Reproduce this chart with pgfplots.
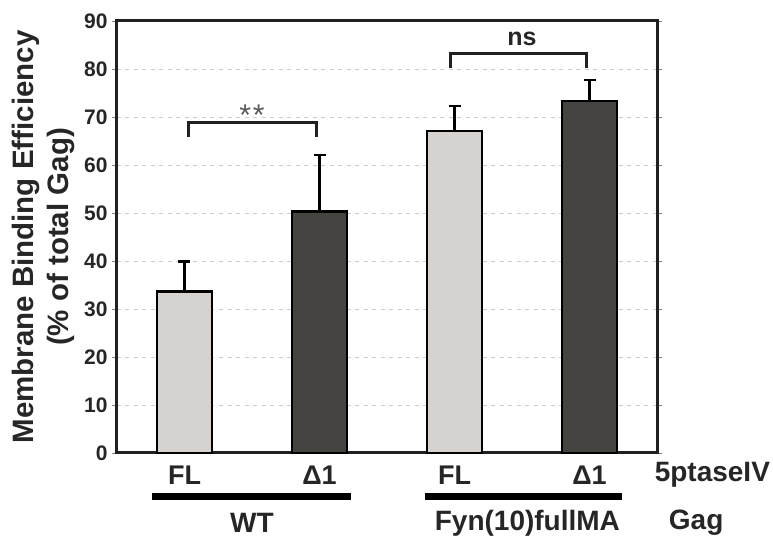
\documentclass[border=0pt]{standalone}
\usepackage{fontspec}
\setmainfont{Liberation Sans}
\usepackage{pgfplots}
\pgfplotsset{compat=1.18}
\definecolor{lightbar}{HTML}{D6D2CF}
\definecolor{darkbar}{HTML}{45433F}
\definecolor{axisdark}{HTML}{202020}

\begin{document}
\begin{tikzpicture}[font=\bfseries]
\useasboundingbox (-117pt,-87pt) rectangle (656pt,453pt);
\begin{axis}[
  at={(0,0)}, anchor=south west,
  width=540pt, height=432pt, scale only axis,
  xmin=0, xmax=4, ymin=0, ymax=90,
  ytick={0,10,...,90},
  xtick={0.5,1.5,2.5,3.5}, xticklabels={FL,Δ1,FL,Δ1},
  minor xtick={0,1,2,3,4},
  tick align=outside,
  major tick length=5pt, minor tick length=8pt,
  xtick style={draw=none},
  ytick style={gray, line width=0.6pt},
  minor x tick style={gray!70, line width=0.6pt},
  ymajorgrids,
  major grid style={gray!40, line width=0.8pt, dash pattern=on 4pt off 4.5pt},
  axis line style={line width=3pt, axisdark},
  /pgf/number format/assume math mode=true,
  yticklabel style={font=\fontsize{21}{21}\selectfont\bfseries, text=black!85, xshift=-1pt},
  xticklabel style={font=\fontsize{27}{27}\selectfont\bfseries, text=black!85, anchor=north, yshift=-4pt},
  ylabel={Membrane Binding Efficiency\\(\% of total Gag)},
  ylabel style={font=\fontsize{29.5}{35}\selectfont\bfseries, text=black!85, align=center,
    at={(axis description cs:-0.072,0.5)}, anchor=south},
  clip=false,
]
\addplot[ybar, bar width=55pt, bar shift=0pt, fill=lightbar, draw=black, line width=2.6pt,
  error bars/.cd, y dir=plus, y explicit,
  error bar style={line width=2.6pt, black},
  error mark options={rotate=90, mark size=6pt, line width=2.6pt, black}]
  coordinates {(0.5,33.6) +- (0,6.3) (2.5,67.1) +- (0,5.2)};
\addplot[ybar, bar width=55pt, bar shift=0pt, fill=darkbar, draw=black, line width=2.6pt,
  error bars/.cd, y dir=plus, y explicit,
  error bar style={line width=2.6pt, black},
  error mark options={rotate=90, mark size=6pt, line width=2.6pt, black}]
  coordinates {(1.5,50.3) +- (0,11.8) (3.5,73.3) +- (0,4.4)};

% significance brackets
\draw[line width=3pt, axisdark] (axis cs:0.53,65.8) -- (axis cs:0.53,68.75) -- (axis cs:1.48,68.75) -- (axis cs:1.48,65.8);
\node[font=\fontsize{30}{30}\selectfont, text=black!65, anchor=base] at (axis cs:1.0,68.3) {*\hspace{2pt}*};
\draw[line width=3pt, axisdark] (axis cs:2.47,80.2) -- (axis cs:2.47,83.3) -- (axis cs:3.48,83.3) -- (axis cs:3.48,80.2);
\node[font=\fontsize{25}{25}\selectfont\bfseries, text=black!85] at (axis cs:3.0,86.2) {ns};

% grouping under the axis
\draw[line width=7pt, black] ([yshift=-43pt]axis cs:0.26,0) -- ([yshift=-43pt]axis cs:1.73,0);
\draw[line width=7pt, black] ([yshift=-43pt]axis cs:2.28,0) -- ([yshift=-43pt]axis cs:3.74,0);
\node[font=\fontsize{28}{28}\selectfont\bfseries, text=black!85] at ([yshift=-22pt]axis cs:4.41,0) {5ptaseIV};
\node[font=\fontsize{28}{28}\selectfont\bfseries, text=black!85] at ([yshift=-70pt]axis cs:1.0,0) {WT};
\node[font=\fontsize{28}{28}\selectfont\bfseries, text=black!85] at ([yshift=-70pt]axis cs:3.04,0) {Fyn(10)fullMA};
\node[font=\fontsize{28}{28}\selectfont\bfseries, text=black!85] at ([yshift=-70pt]axis cs:4.29,0) {Gag};
\end{axis}
\end{tikzpicture}
\end{document}
